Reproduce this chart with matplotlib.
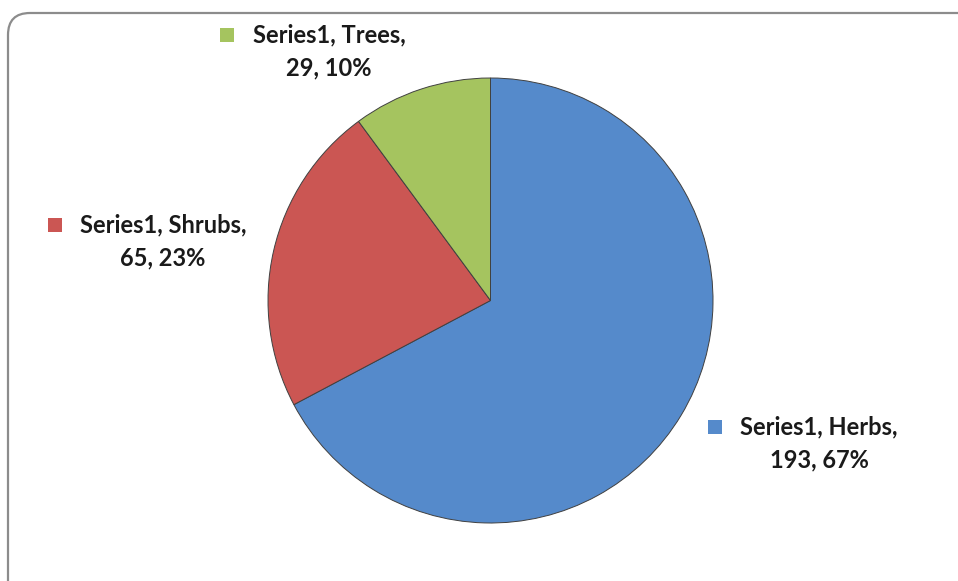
import matplotlib
matplotlib.use("Agg")
import matplotlib.pyplot as plt
from matplotlib.patches import FancyBboxPatch, Rectangle

series_name = "Series1"
categories = ["Herbs", "Shrubs", "Trees"]
values = [193, 65, 29]
percents = [67, 23, 10]
colors = ["#558ACB", "#CB5653", "#A5C45F"]

W, H = 958, 581
fig = plt.figure(figsize=(W / 100, H / 100), dpi=100)
ax = fig.add_axes([0, 0, 1, 1])
ax.set_xlim(0, W)
ax.set_ylim(0, H)
ax.set_aspect("equal")
ax.axis("off")

# chart border (rounded, clipped at right & bottom)
border = FancyBboxPatch((8, -40), 1000, H - 13 + 40,
                        boxstyle="round,pad=0,rounding_size=22",
                        fc="white", ec="#8c8c8c", lw=1.6, zorder=0)
ax.add_patch(border)

cx, cy, r = 490.5, H - 300.5, 222.5
wedges, _ = ax.pie(values, colors=colors, startangle=90, counterclock=False,
                   center=(cx, cy), radius=r,
                   wedgeprops=dict(edgecolor="#404040", linewidth=0.7))
ax.set_xlim(0, W)
ax.set_ylim(0, H)

font = dict(family="Lato", weight="bold", size=17, color="#1a1a1a")
# label anchors: (marker x, text center x, line1 y) in pixel coords from top
label_pos = {
    "Herbs": (715, 819, 427),
    "Shrubs": (55, 163, 225),
    "Trees": (227, 329, 35),
}
for cat, v, p, c in zip(categories, values, percents, colors):
    mx, tx, ty = label_pos[cat]
    ax.add_patch(Rectangle((mx - 7, H - ty - 7), 14, 14, fc=c, ec="none", zorder=5))
    ax.text(tx, H - ty, f"{series_name}, {cat},", ha="center", va="center", **font)
    ax.text(tx, H - ty - 33, f"{v}, {p}%", ha="center", va="center", **font)

fig.savefig("out.png", dpi=100)
